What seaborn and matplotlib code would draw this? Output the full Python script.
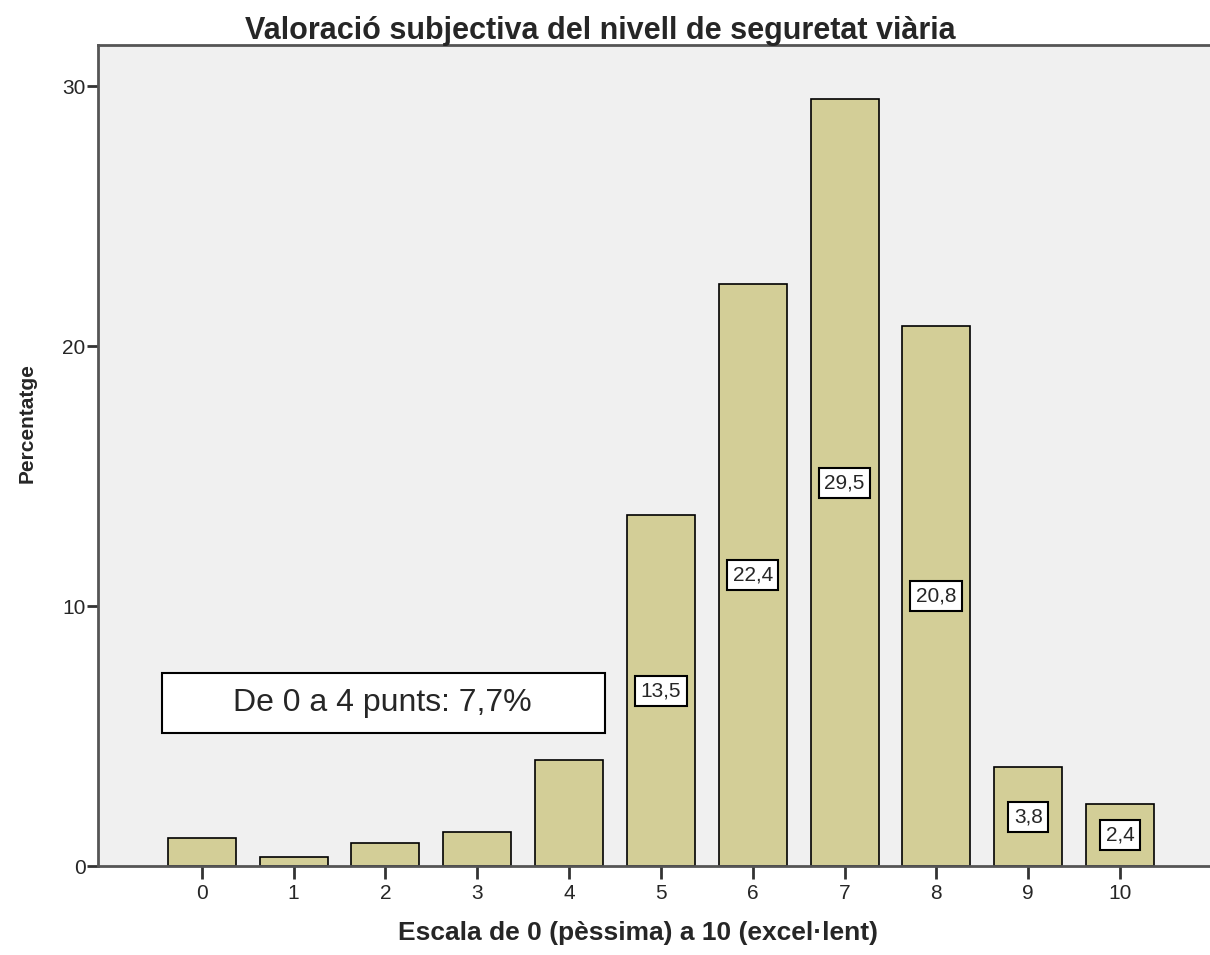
import numpy as np
import pandas as pd
import matplotlib.pyplot as plt
import matplotlib.patches as mpatches
import seaborn as sns

# Data
scores = ['0', '1', '2', '3', '4', '5', '6', '7', '8', '9', '10']
percent = [1.1, 0.35, 0.9, 1.3, 4.1, 13.5, 22.4, 29.5, 20.8, 3.8, 2.4]
labelled = [False, False, False, False, False, True, True, True, True, True, True]
note_text = 'De 0 a 4 punts: 7,7%'

df = pd.DataFrame({'score': scores, 'pct': percent})

sns.set_style('ticks')
plt.rcParams['font.family'] = ['Liberation Sans', 'DejaVu Sans']

fig = plt.figure(figsize=(12.1, 9.55), dpi=100)
ax = fig.add_axes([0.081, 0.093, 0.919, 0.86])
ax.set_facecolor('#F0F0F0')

sns.barplot(data=df, x='score', y='pct', order=scores, color='#D3CE97',
            saturation=1, width=0.74, edgecolor='black', linewidth=1.2, ax=ax)

# value labels in the middle of bars
labels = [f'{v:.1f}'.replace('.', ',') if show else ''
          for v, show in zip(percent, labelled)]
ax.bar_label(ax.containers[0], labels=labels, label_type='center', fontsize=15,
             bbox=dict(boxstyle='square,pad=0.27', facecolor='white',
                       edgecolor='black', linewidth=1.5))

ax.set_xlim(-1.13, 10.98)
ax.set_ylim(0, 31.6)
ax.set_yticks([0, 10, 20, 30])

# summary box
ax.add_patch(mpatches.Rectangle((-0.436, 5.12), 4.83, 2.3, facecolor='white',
                                edgecolor='black', linewidth=1.5, zorder=4))
ax.text(1.97, 6.27, note_text, ha='center', va='center', fontsize=23, zorder=5)

for side in ['left', 'top', 'bottom']:
    ax.spines[side].set_color('#555555')
    ax.spines[side].set_linewidth(2)
ax.spines['right'].set_visible(False)
ax.tick_params(axis='y', length=8, width=2, color='#333333', labelsize=15, pad=1)
ax.tick_params(axis='x', length=9, width=2, color='#333333', labelsize=15, pad=4)

fig.text(0.496, 0.968, 'Valoració subjectiva del nivell de seguretat viària',
         ha='center', va='center', fontsize=22, fontweight='bold')
ax.set_xlabel('Escala de 0 (pèssima) a 10 (excel·lent)', fontsize=19,
              fontweight='bold')
ax.set_ylabel('Percentatge', fontsize=15, fontweight='bold')
ax.xaxis.set_label_coords(0.486, -0.067)
ax.yaxis.set_label_coords(-0.055, 0.539)

fig.savefig('out.png', dpi=100)
